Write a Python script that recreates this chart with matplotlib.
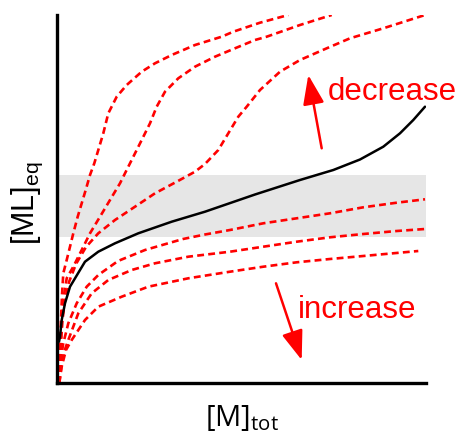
import matplotlib
matplotlib.use("Agg")
import matplotlib.pyplot as plt

# Arbitrary units (no tick scale on either axis): x 0..369, y 0..368
x_max, y_max = 369, 368

# Black (reference) curve
black_x = [2, 3, 4.7, 8, 13, 23, 28, 41.3, 58, 81.3, 114.7, 148, 198, 243, 276.3, 303, 326.3, 343, 356.3, 368]
black_y = [41.3, 46.3, 63, 79.7, 96.3, 113, 121.3, 131.3, 139.7, 149.7, 161.3, 171.3, 188.5, 203, 213, 223.5, 236.3, 249.7, 263, 276.3]

# Red dashed curves ("decrease" side)
up1_x = [2.3, 3, 4, 5, 6.3, 9.7, 13, 16.3, 20.7, 24.7, 28.7, 33, 37.3, 41.3, 46.3, 51.3, 59.7, 69.7, 84.7, 98, 114.7, 138, 164.7, 176.3, 203, 231.3]
up1_y = [0, 33, 63, 88, 109.7, 123, 136.3, 149.7, 166.3, 179.7, 193, 208, 219.7, 233, 249.7, 269.7, 286.3, 298, 311.3, 319.7, 328, 338, 346.3, 351.3, 360.3, 368]
up2_x = [2.3, 3.3, 5, 7, 9.7, 16.3, 24.7, 33, 43, 53, 63, 71.3, 79.7, 84.7, 93, 99.7, 108, 121.3, 138, 158, 178, 198, 209.7, 243, 274.7]
up2_y = [0, 33, 68, 88, 104.7, 116.3, 133, 149.7, 166.3, 183, 199.7, 216.3, 233, 243, 259.7, 276.3, 291.3, 304.7, 316.3, 326.3, 334.7, 343, 346.3, 358, 368]
up3_x = [2.3, 3.5, 5.5, 8, 12, 19, 29, 41.3, 58, 78, 98, 119.7, 138, 148, 161.3, 171.3, 181.3, 189.7, 203, 223, 243, 269.7, 293, 326.3, 368]
up3_y = [0, 33, 63, 83, 101, 119, 136, 149.7, 163, 176.3, 189.7, 201.3, 211.3, 219, 233, 249.7, 266.3, 276.3, 293, 311.3, 323, 334.7, 344.7, 354.7, 368]

# Red dashed curves ("increase" side)
lo1_x = [2.3, 3, 6.3, 11.3, 19.7, 29.7, 41.3, 61, 88, 126, 148, 173, 206.3, 239.7, 273, 306.3, 339.7, 368]
lo1_y = [0, 19.7, 39.7, 59.7, 79.7, 96.3, 108, 122, 133, 144, 148.5, 153, 159.7, 164.7, 169.7, 175.7, 180.3, 183.7]
lo2_x = [2.3, 4.5, 7, 11.3, 21.3, 34.7, 51.3, 74.7, 98, 131.3, 173, 206.3, 239.7, 273, 306.3, 339.7, 368]
lo2_y = [0, 18, 31, 43, 69.7, 89.7, 103, 113, 119.7, 126.3, 131.3, 136.3, 141.3, 145.7, 149, 152, 154]
lo3_x = [2.3, 4.7, 9, 14.7, 28, 41.3, 64.7, 91.3, 131.3, 173, 206.3, 239.7, 273, 306.3, 361.3]
lo3_y = [0, 16.3, 33, 43, 63, 76.3, 86.3, 96.3, 104.7, 111.3, 116.3, 120.7, 124, 127, 132]

band = (146, 208)

fig = plt.figure(figsize=(4.6, 4.33), dpi=100)
ax = fig.add_axes([57/460, 50/433, 369/460, 368/433])
ax.set_xlim(0, x_max)
ax.set_ylim(0, y_max)

ax.axhspan(band[0], band[1], color="#e6e6e6", zorder=0, lw=0)

red = "#ff0000"
for xs, ys in [(up1_x, up1_y), (up2_x, up2_y), (up3_x, up3_y),
               (lo1_x, lo1_y), (lo2_x, lo2_y), (lo3_x, lo3_y)]:
    ax.plot(xs, ys, color=red, lw=1.9, dashes=(2.6, 1.6), zorder=2,
            solid_joinstyle="round")

ax.plot(black_x, black_y, color="black", lw=1.8, zorder=3,
        solid_joinstyle="round", solid_capstyle="round")

# arrows
astyle = "-|>,head_length=1.8,head_width=0.65"
ax.annotate("", xy=(251.3, 308), xytext=(264.7, 234.7),
            arrowprops=dict(arrowstyle=astyle, color=red, lw=1.8,
                            shrinkA=0, shrinkB=0))
ax.annotate("", xy=(244.7, 23), xytext=(219, 99.7),
            arrowprops=dict(arrowstyle=astyle, color=red, lw=1.8,
                            shrinkA=0, shrinkB=0))

ax.text(271, 283, "decrease", color=red, fontsize=22.5,
        family="Liberation Sans", ha="left", va="baseline")
ax.text(241, 65, "increase", color=red, fontsize=22.5,
        family="Liberation Sans", ha="left", va="baseline")

for s in ["top", "right"]:
    ax.spines[s].set_visible(False)
for s in ["left", "bottom"]:
    ax.spines[s].set_linewidth(2.4)
ax.set_xticks([])
ax.set_yticks([])

plt.rcParams["mathtext.fontset"] = "custom"
plt.rcParams["mathtext.rm"] = "Open Sans"
fig.text(242/460, 1 - 418/433, r"$\mathrm{[M]_{tot}}$", fontsize=21,
         family="Open Sans", ha="center", va="center")
fig.text(27/460, 1 - 203/433, "[ML]$_{\\mathregular{eq}}$", fontsize=22,
         family="Liberation Sans", ha="center", va="center", rotation=90)

fig.savefig("out.png", dpi=100)
